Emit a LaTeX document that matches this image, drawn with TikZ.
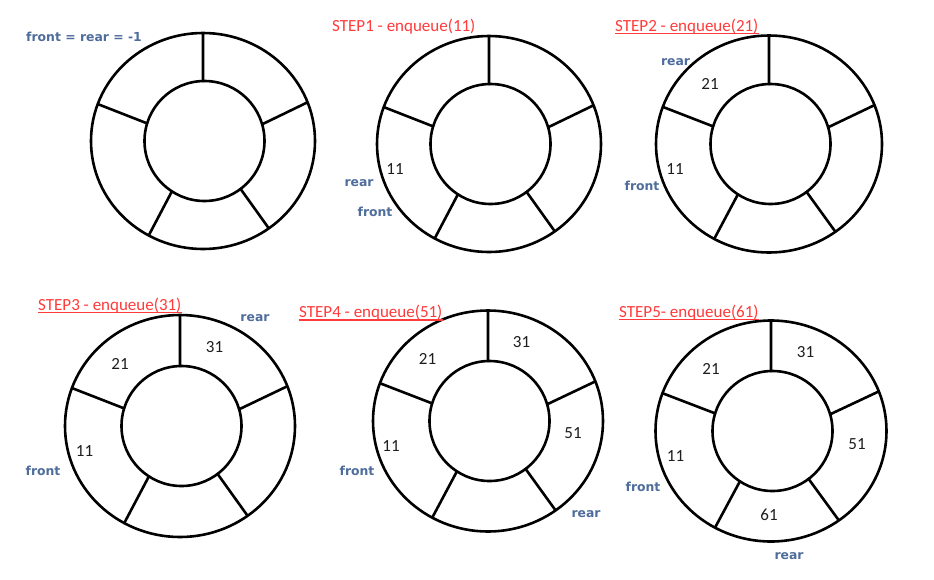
\documentclass[tikz,border=0pt]{standalone}
\usepackage{fontspec}
\newfontfamily\numfont{Carlito}
\newfontfamily\lblfont{DejaVu Sans}
\definecolor{lblblue}{HTML}{4E6D9C}
\definecolor{stepred}{HTML}{FF3B3B}
\definecolor{numcol}{HTML}{1E1E1E}
\tikzset{
  ringline/.style={line width=2.6pt, black},
  pics/ring/.style n args={2}{code={
    \draw[ringline] (0,0) ellipse [x radius=#1, y radius=#2];
    \draw[ringline] (1.5,0) circle [radius=60];
    \foreach \ai/\ao in {91.5/90,16/21,-53/-54,-123/-119,163/160}
      \draw[ringline] ({1.5+59*cos(\ai)},{-59*sin(\ai)}) -- ({#1*cos(\ao)},{-#2*sin(\ao)});
  }},
  lbl/.style={anchor=base, inner sep=0pt, text=lblblue, font=\lblfont\bfseries\fontsize{12.4}{14}\selectfont},
  num/.style={anchor=base, inner sep=0pt, text=numcol, font=\numfont\fontsize{17}{20}\selectfont},
  steptitle/.style={anchor=base west, inner sep=0pt, text=stepred, font=\numfont\fontsize{17}{20}\selectfont},
  uline/.style={stepred, line width=1.2pt},
}
\begin{document}
\begin{tikzpicture}[x=1pt,y=-1pt]
\useasboundingbox (0,0) rectangle (934,579);
\fill[white] (0,0) rectangle (934,579);

% rings
\pic at (203,141) {ring={112}{108}};
\pic at (489,144) {ring={112}{108}};
\pic at (769,144) {ring={113}{108.5}};
\pic at (180,426) {ring={115}{111}};
\pic at (488,421) {ring={115}{110.5}};
\pic at (771,431) {ring={115.5}{110.5}};

% initial state
\node[lbl, anchor=base west] (init) at (26,41) {front = rear = -1};

% titles
\node[steptitle] (t1) at (332,31) {STEP1 - enqueue(11)};
\node[steptitle] (t2) at (615,31) {STEP2 - enqueue(21)};
\node[steptitle] (t3) at (38,310) {STEP3 - enqueue(31)};
\node[steptitle] (t4) at (299,317.5) {STEP4 - enqueue(51)};
\node[steptitle] (t5) at (619,317) {STEP5- enqueue(61)};
\foreach \t in {t2,t3,t4,t5}
  \draw[uline] ([yshift=-2.5pt]\t.base west) -- ([yshift=-2.5pt]\t.base east);

% step 1
\node[num] (n1a) at (395,174) {11};
\node[lbl] (r1) at (359,186.5) {rear};
\node[lbl] (f1) at (375,216.5) {front};

% step 2
\node[num] (n2a) at (675,174) {11};
\node[num] (n2b) at (710,89) {21};
\node[lbl] (r2) at (675.5,65.5) {rear};
\node[lbl] (f2) at (642,190.5) {front};

% step 3
\node[num] (n3a) at (84.5,456) {11};
\node[num] (n3b) at (120,369) {21};
\node[num] (n3c) at (214.5,352) {31};
\node[lbl] (r3) at (255,321.5) {rear};
\node[lbl] (f3) at (43,475.5) {front};

% step 4
\node[num] (n4a) at (391,451) {11};
\node[num] (n4b) at (427.5,364) {21};
\node[num] (n4c) at (521.5,347) {31};
\node[num] (n4d) at (573,438) {51};
\node[lbl] (f4) at (357,475.5) {front};
\node[lbl] (r4) at (586,517.5) {rear};

% step 5
\node[num] (n5a) at (675.5,461) {11};
\node[num] (n5b) at (711,374) {21};
\node[num] (n5c) at (805.5,357) {31};
\node[num] (n5d) at (857,449) {51};
\node[num] (n5e) at (769,520) {61};
\node[lbl] (f5) at (643,491.5) {front};
\node[lbl] (r5) at (789,559.5) {rear};
\end{tikzpicture}
\end{document}
